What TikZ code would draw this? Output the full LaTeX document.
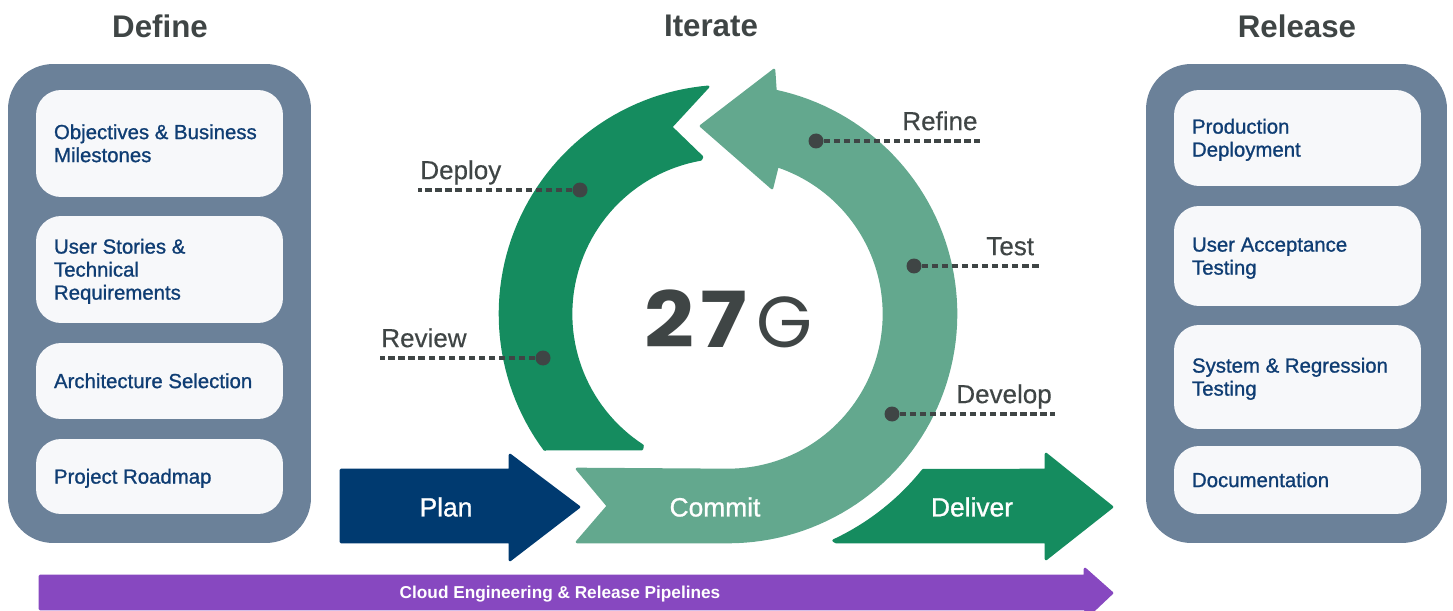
\documentclass[tikz,border=0pt]{standalone}
\usepackage{fontspec}
\setmainfont{Liberation Sans}
\newfontfamily\boxfont[FakeBold=1]{Liberation Sans}
\newfontfamily\labelfont[FakeBold=0.4]{Liberation Sans}
\newfontfamily\numfont{Poppins}
\definecolor{panelgray}{HTML}{6B8199}
\definecolor{boxwhite}{HTML}{F7F8FA}
\definecolor{boxblue}{HTML}{0F3D73}
\definecolor{inkgray}{HTML}{3F4545}
\definecolor{darkgreen}{HTML}{158C5F}
\definecolor{lightgreen}{HTML}{63A88E}
\definecolor{planblue}{HTML}{003A70}
\definecolor{pipepurple}{HTML}{8748C0}
\tikzset{
  panel/.style={fill=panelgray, rounded corners=0.9cm, minimum height=9.58cm, inner sep=0pt},
  stepbox/.style={fill=boxwhite, rounded corners=0.5cm, minimum width=4.94cm, text width=4.22cm, inner xsep=0.36cm, inner ysep=0pt, align=flush left, text=boxblue, font=\boxfont\fontsize{11.6}{13.1}\selectfont, execute at begin node={\rule{0pt}{12pt}}, execute at end node=\strut},
  heading/.style={text=inkgray, font=\fontsize{17.8}{20}\selectfont\bfseries},
  callout/.style={text=inkgray, anchor=west, inner sep=0pt, text height=10.4pt, text depth=0pt, font=\labelfont\fontsize{14.8}{17}\selectfont},
  arrowtext/.style={text=white, font=\boxfont\fontsize{15}{17}\selectfont},
  blob/.style={draw=#1, fill=#1, line width=1.5pt, line join=round},
  pin/.style={circle, fill=inkgray, minimum size=0.3cm, inner sep=0pt},
  leader/.style={draw=inkgray, line width=1.8pt, dash pattern=on 3.7pt off 2pt}
}
\begin{document}
\begin{tikzpicture}[x=0.02cm, y=-0.02cm, declare function={ringx(\r,\a)=728+\r*cos(\a); ringy(\r,\a)=314-\r*sin(\a);}]
    \useasboundingbox (0,0) rectangle (1453,611);
    \node[heading] (titledefine) at (160,26) {Define};
    \node[heading] (titleiterate) at (711,26) {Iterate};
    \node[heading] (titlerelease) at (1297,26) {Release};

    \node[panel, minimum width=6.06cm] (panelleft) at (159.5,303.5) {};
    \node[stepbox, minimum height=2.14cm] (objectives) at (159.5,143.5) {Objectives \& Business\\Milestones};
    \node[stepbox, minimum height=2.14cm] (stories) at (159.5,269.5) {User Stories \&\\Technical\\Requirements};
    \node[stepbox, minimum height=1.52cm] (architecture) at (159.5,381) {Architecture Selection};
    \node[stepbox, minimum height=1.5cm] (roadmap) at (159.5,476.5) {Project Roadmap};

    \node[panel, minimum width=6.02cm] (panelright) at (1296.5,303.5) {};
    \node[stepbox, minimum height=1.92cm] (production) at (1297.5,138) {Production\\Deployment};
    \node[stepbox, minimum height=2cm] (acceptance) at (1297.5,256) {User Acceptance\\Testing};
    \node[stepbox, minimum height=2.08cm] (regression) at (1297.5,377) {System \& Regression\\Testing};
    \node[stepbox, minimum height=1.36cm] (documentation) at (1297.5,480) {Documentation};

    \path[blob=darkgreen] plot[samples=60,variable=\a,domain=95:216.5] ({ringx(228,\a)},{ringy(228,\a)}) -- (546,449) -- (642,449) -- plot[samples=60,variable=\a,domain=237:100] ({ringx(157,\a)},{ringy(157,\a)}) -- (702,157) -- (671,127) -- (707,88) -- cycle;
    \path[blob=lightgreen] (577,469) -- (608,506) -- (577,542) -- plot[samples=80,variable=\a,domain=-90:78] ({ringx(228,\a)},{ringy(228,\a)}) -- (774,70) -- (701,126) -- (772,188) -- (777,168) -- plot[samples=80,variable=\a,domain=71.5:-90] ({ringx(156,\a)},{ringy(156,\a)}) -- cycle;
    \path[blob=planblue] (341,470) -- (510,470) -- (510,455) -- (579,507) -- (510,560) -- (510,542) -- (341,542) -- cycle;
    \path[blob=darkgreen] (836,542) -- plot[samples=30,variable=\a,domain=-65:-38.7] ({ringx(250,\a)},{ringy(250,\a)}) -- (1046,470) -- (1046,454) -- (1112,507) -- (1046,559) -- (1046,542) -- cycle;
    \path[blob=pipepurple] (40,576) -- (1085,576) -- (1085,569) -- (1112,593) -- (1094,610) -- (1085,610) -- (1085,609) -- (40,609) -- cycle;

    \node[arrowtext] (plan) at (446,507) {Plan};
    \node[arrowtext] (commit) at (715,507) {Commit};
    \node[arrowtext] (deliver) at (972,507) {Deliver};
    \node[text=white, font=\fontsize{9.8}{12}\selectfont\bfseries] (pipelines) at (560,594.5) {Cloud Engineering \& Release Pipelines};

    \node[text=inkgray, font=\numfont\fontsize{44}{50}\selectfont] (cyclecount) at (728.5,319) {\scalebox{1.13}[1]{\textbf{2\kern3pt7}}\kern5.4pt{\fontsize{41}{50}\selectfont G}};

    \node[pin] (pindeploy) at (580,190) {};
    \node[pin] (pinreview) at (543,358) {};
    \node[pin] (pinrefine) at (816,141) {};
    \node[pin] (pintest) at (914,266) {};
    \node[pin] (pindevelop) at (892,414) {};
    \coordinate (enddeploy) at (418,190);
    \coordinate (endreview) at (380,358);
    \coordinate (endrefine) at (980,141);
    \coordinate (endtest) at (1040,266);
    \coordinate (enddevelop) at (1055,414);
    \draw[leader] (pindeploy) -- (enddeploy);
    \draw[leader] (pinreview) -- (endreview);
    \draw[leader] (pinrefine) -- (endrefine);
    \draw[leader] (pintest) -- (endtest);
    \draw[leader] (pindevelop) -- (enddevelop);
    \node[callout] (deploy) at (420,170) {Deploy};
    \node[callout] (review) at (381,338) {Review};
    \node[callout] (refine) at (902,121) {Refine};
    \node[callout] (test) at (986,246) {Test};
    \node[callout] (develop) at (956,394) {Develop};
\end{tikzpicture}
\end{document}
